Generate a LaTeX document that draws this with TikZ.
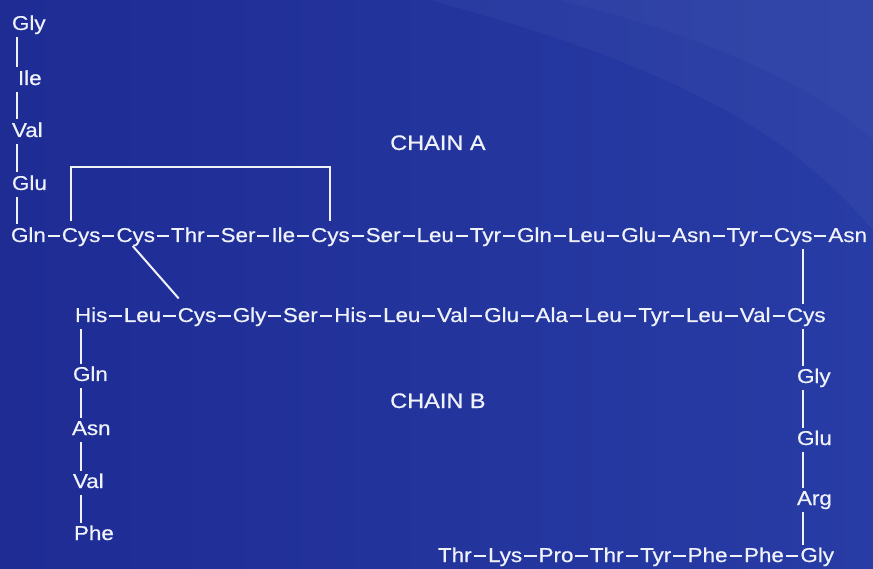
\documentclass[tikz,border=0pt]{standalone}
\usepackage{fontspec}
\setmainfont{Liberation Sans}[FakeStretch=1.12,FakeBold=0.6]
\usetikzlibrary{calc}
\definecolor{bgL}{RGB}{30,44,148}
\definecolor{bgR}{RGB}{40,60,165}
\definecolor{ink}{RGB}{240,242,250}
\begin{document}
\begin{tikzpicture}[x=1pt,y=-1pt,
  aa/.style={text=ink, font=\fontsize{20}{24}\selectfont, inner sep=0pt, outer sep=0pt,
             text height=14.5pt, text depth=4pt, anchor=base west},
  lbl/.style={text=ink, font=\fontsize{21}{25}\selectfont, inner sep=0pt, anchor=base west},
  bond/.style={draw=ink, line width=2pt},
  vbond/.style={bond, shorten <=3pt, shorten >=3pt}]
\useasboundingbox (0,0) rectangle (873,569);
\shade[left color=bgL, right color=bgR] (0,0) rectangle (873,569);
% faint lighter bands
\fill[white, opacity=0.03] (430,0) .. controls (650,60) and (780,120) .. (873,230) -- (873,0) -- cycle;
\fill[white, opacity=0.025] (560,0) .. controls (720,40) and (820,90) .. (873,140) -- (873,0) -- cycle;

% ---------- Chain A ----------
\node[aa] (a1) at (12,30) {Gly};
\node[aa] (a2) at (18,85) {Ile};
\node[aa] (a3) at (12,137) {Val};
\node[aa] (a4) at (12,190) {Glu};
\node[aa] (a5) at (11,242) {Gln};
\foreach \r [count=\i from 6] in {Cys,Cys,Thr,Ser,Ile,Cys,Ser,Leu,Tyr,Gln,Leu,Glu,Asn,Tyr,Cys,Asn}{
  \pgfmathtruncatemacro\j{\i-1}
  \node[aa] (a\i) at ([xshift=16pt]a\j.base east) {\r};
  \draw[bond] ([xshift=2pt,yshift=6pt]a\j.base east) -- ([xshift=-2pt,yshift=6pt]a\i.base west);
}
\coordinate (lxA) at (17,0);
\foreach \i [evaluate=\i as \j using int(\i+1)] in {1,2,3,4}{
  \draw[vbond] (a\i.south -| lxA) -- (a\j.north -| lxA);
}

% ---------- Chain B ----------
\node[aa] (b5) at (75,322) {His};
\foreach \r [count=\i from 6] in {Leu,Cys,Gly,Ser,His,Leu,Val,Glu,Ala,Leu,Tyr,Leu,Val,Cys}{
  \pgfmathtruncatemacro\j{\i-1}
  \node[aa] (b\i) at ([xshift=16.5pt]b\j.base east) {\r};
  \draw[bond] ([xshift=2pt,yshift=6pt]b\j.base east) -- ([xshift=-2pt,yshift=6pt]b\i.base west);
}
\node[aa] (b4) at (73,381) {Gln};
\node[aa] (b3) at (72,435) {Asn};
\node[aa] (b2) at (73,488) {Val};
\node[aa] (b1) at (74,540) {Phe};
\coordinate (lxB) at (81,0);
\foreach \i [evaluate=\i as \j using int(\i+1)] in {1,2,3,4}{
  \draw[vbond] (b\i.north -| lxB) -- (b\j.south -| lxB);
}

\node[aa] (b20) at (797,383) {Gly};
\node[aa] (b21) at (797,445) {Glu};
\node[aa] (b22) at (797,505) {Arg};
\node[aa] (b30) at (438,562) {Thr};
\foreach \r [count=\k from 1] in {Lys,Pro,Thr,Tyr,Phe,Phe,Gly}{
  \pgfmathtruncatemacro\i{30-\k}
  \pgfmathtruncatemacro\j{\i+1}
  \node[aa] (b\i) at ([xshift=16.5pt]b\j.base east) {\r};
  \draw[bond] ([xshift=2pt,yshift=6pt]b\j.base east) -- ([xshift=-2pt,yshift=6pt]b\i.base west);
}
\coordinate (rx) at (803,0);
\foreach \i [evaluate=\i as \j using int(\i+1)] in {19,20,21,22}{
  \draw[vbond] (b\i.south -| rx) -- (b\j.north -| rx);
}

% ---------- Disulfide bridges ----------
\coordinate (brk) at (0,167);
\draw[bond] ([xshift=9pt,yshift=6pt]a6.north west) |- (brk -| a11.north) -- ([yshift=6pt]a11.north);
\draw[bond] ([xshift=-3pt]a7.south) -- ([xshift=1pt,yshift=9pt]b7.north west);
\draw[vbond] (a20.south -| rx) -- (b19.north -| rx);

% ---------- Labels ----------
\node[lbl] (la) at (390,150) {CHAIN A};
\node[lbl] (lb) at (390,408) {CHAIN B};
\end{tikzpicture}
\end{document}
